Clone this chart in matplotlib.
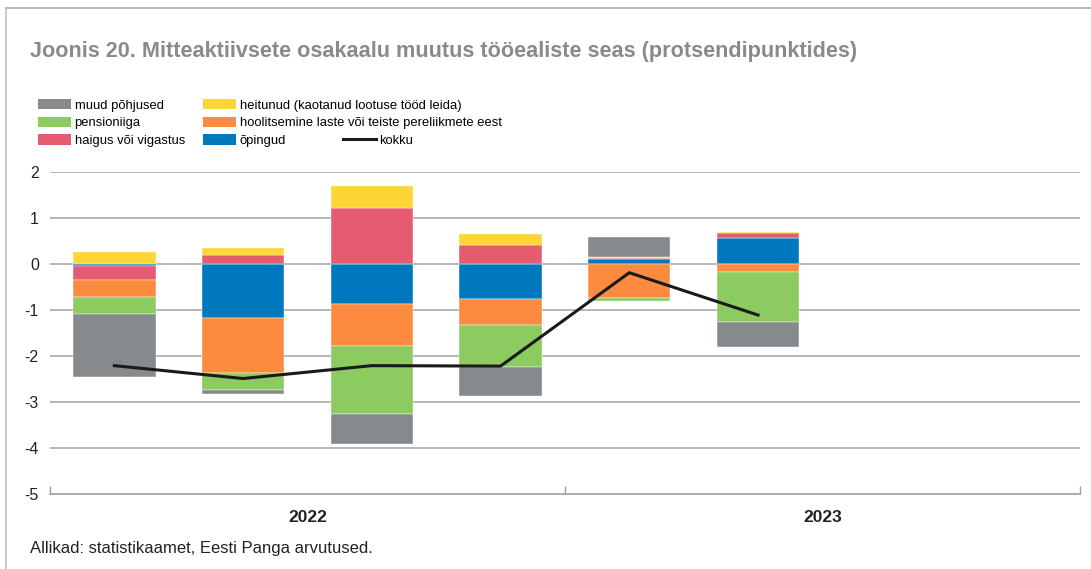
import numpy as np
import matplotlib
matplotlib.use("Agg")
import matplotlib.pyplot as plt
from matplotlib.patches import Patch
from matplotlib.lines import Line2D

plt.rcParams['font.family'] = ['Liberation Sans', 'DejaVu Sans']

# kvartalid 2022 I - 2023 IV (andmed kuni 2023 II)
kvartalid = ['2022 I', '2022 II', '2022 III', '2022 IV', '2023 I', '2023 II', '2023 III', '2023 IV']
aastad = ['2022', '2023']

opingud = [-0.04, -1.17, -0.87, -0.77, 0.10, 0.57]
haigus = [-0.31, 0.20, 1.22, 0.41, 0.04, 0.10]
heitunud = [0.25, 0.15, 0.48, 0.24, 0.02, 0.02]
hoolitsemine = [-0.37, -1.19, -0.91, -0.56, -0.74, -0.18]
pensioniiga = [-0.37, -0.39, -1.48, -0.91, -0.06, -1.08]
muud = [-1.36, -0.08, -0.66, -0.62, 0.43, -0.54]
kokku = [-2.21, -2.49, -2.21, -2.22, -0.19, -1.11]

seeriad = [
    ('õpingud', opingud, '#0078bd'),
    ('haigus või vigastus', haigus, '#e55c70'),
    ('heitunud (kaotanud lootuse tööd leida)', heitunud, '#fdd535'),
    ('hoolitsemine laste või teiste pereliikmete eest', hoolitsemine, '#fd8b3f'),
    ('pensioniiga', pensioniiga, '#8bcb60'),
    ('muud põhjused', muud, '#878a8c'),
]

fig = plt.figure(figsize=(10.91, 5.69), dpi=100)
ax = fig.add_axes([0.0458, 0.1318, 0.944, 0.566])

x = np.arange(len(opingud))
pos = np.zeros(len(x))
neg = np.zeros(len(x))
for nimi, vals, col in seeriad:
    v = np.array(vals)
    base = np.where(v >= 0, pos, neg)
    ax.bar(x, v, bottom=base, width=0.64, color=col, edgecolor='white', linewidth=0.3, zorder=2)
    pos = pos + np.where(v >= 0, v, 0)
    neg = neg + np.where(v < 0, v, 0)

ax.plot(x, kokku, color='#1a1a1a', lw=2.2, zorder=3)

ax.set_xlim(-0.5, len(kvartalid) - 0.5)
ax.set_ylim(-5, 2)
ax.set_yticks(range(-5, 3))
ax.set_yticklabels([str(t) for t in range(-5, 3)])
ax.tick_params(axis='y', length=0, labelsize=11.5, pad=8, colors='#222222')
for t in range(-4, 3):
    ax.axhline(t, color='#a9a9a9', lw=1.2, zorder=1)

for s in ['top', 'right', 'left']:
    ax.spines[s].set_visible(False)
ax.spines['bottom'].set_color('#a0a0a0')
ax.spines['bottom'].set_linewidth(1.2)

ax.set_xticks([-0.5, 3.5, 7.5])
ax.set_xticklabels([])
ax.tick_params(axis='x', length=6, direction='in', color='#a0a0a0', width=1)
ax.xaxis.set_ticks_position('bottom')
for i, a in enumerate(aastad):
    ax.text(1.5 + 4 * i, -5.5, a, ha='center', va='center', fontsize=12.5, fontweight='bold', color='#222222')

# pealkiri ja allikas
fig.text(30 / 1091, 1 - 51 / 569, 'Joonis 20. Mitteaktiivsete osakaalu muutus tööealiste seas (protsendipunktides)',
         fontsize=15.6, fontweight='bold', color='#8a8a8a', va='center')
fig.text(30 / 1091, 1 - 548 / 569, 'Allikad: statistikaamet, Eesti Panga arvutused.',
         fontsize=12, color='#222222', va='center')

# raam
fig.add_artist(Line2D([6 / 1091, 1], [1 - 8 / 569, 1 - 8 / 569], color='#a8a8a8', lw=1.2, transform=fig.transFigure))
fig.add_artist(Line2D([6 / 1091, 6 / 1091], [0, 1 - 8 / 569], color='#c0c0c0', lw=1.2, transform=fig.transFigure))

# legend
cols = {n: c for n, _, c in seeriad}
jarjestus = ['muud põhjused', 'pensioniiga', 'haigus või vigastus',
             'heitunud (kaotanud lootuse tööd leida)', 'hoolitsemine laste või teiste pereliikmete eest', 'õpingud']
handles = [Patch(facecolor=cols[n], edgecolor='none') for n in jarjestus]
ühine = dict(frameon=False, fontsize=9.4, handlelength=2.5, handleheight=0.85, handletextpad=0.3,
             labelspacing=0.37, borderpad=0, borderaxespad=0, loc='upper left')
fig.legend(handles[:3], jarjestus[:3], bbox_to_anchor=(38 / 1091, 1 - 99 / 569), **ühine)
fig.legend(handles[3:], jarjestus[3:], bbox_to_anchor=(203 / 1091, 1 - 99 / 569), **ühine)
fig.legend([Line2D([], [], color='#1a1a1a', lw=2.2)], ['kokku'],
           bbox_to_anchor=(343 / 1091, 1 - 134 / 569), **ühine)

fig.savefig('out.png', dpi=100)
